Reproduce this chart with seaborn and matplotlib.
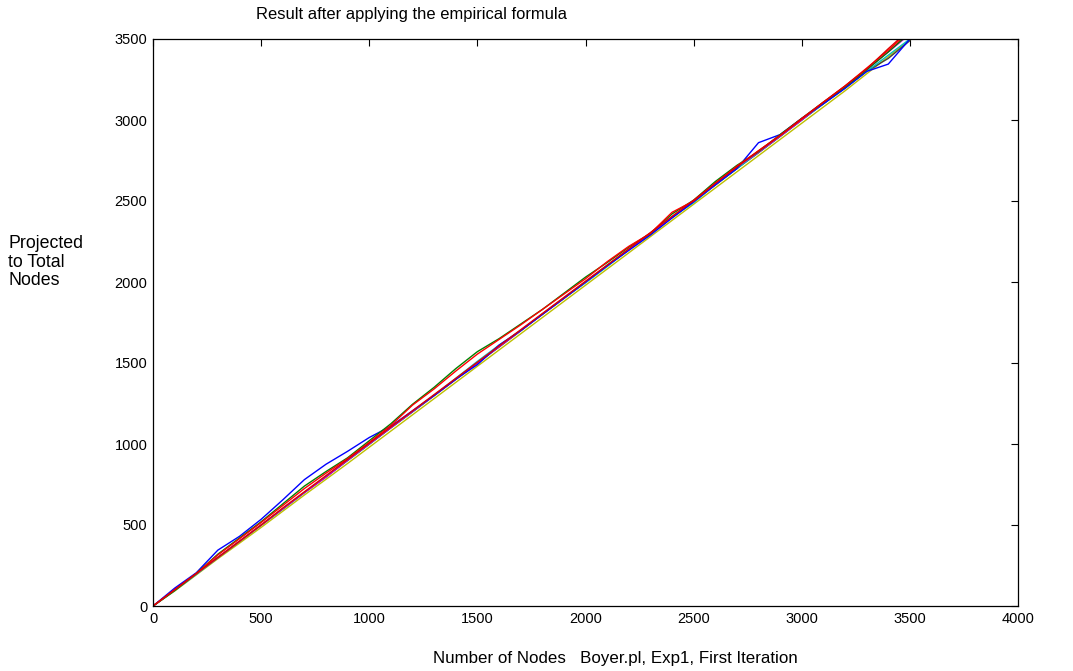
import matplotlib
matplotlib.use("Agg")
import matplotlib.pyplot as plt
import seaborn as sns
import pandas as pd

nodes = [0, 100, 200, 300, 400, 500, 600, 700, 800, 900, 1000, 1100, 1200, 1300, 1400, 1500, 1600, 1700,
         1800, 1900, 2000, 2100, 2200, 2300, 2400, 2500, 2600, 2700, 2800, 2900, 3000, 3100, 3200, 3300, 3400, 3500]

run_blue = [0, 110, 205, 345, 430, 535, 655, 780, 875, 955, 1040, 1110, 1205, 1300, 1400, 1490, 1610, 1700, 1800,
            1900, 2000, 2100, 2195, 2290, 2395, 2495, 2600, 2700, 2860, 2910, 3010, 3100, 3195, 3300, 3345, 3500]
run_green = [0, 95, 200, 320, 420, 520, 630, 740, 830, 915, 1020, 1125, 1245, 1350, 1465, 1570, 1650, 1740, 1830,
             1930, 2030, 2120, 2215, 2300, 2420, 2505, 2620, 2720, 2805, 2910, 3010, 3110, 3205, 3310, 3420, 3540]
run_red = [0, 100, 200, 315, 415, 515, 620, 725, 820, 910, 1010, 1115, 1240, 1340, 1450, 1555, 1645, 1735, 1830,
           1925, 2020, 2125, 2220, 2300, 2430, 2500, 2610, 2715, 2810, 2905, 3005, 3110, 3210, 3320, 3430, 3550]
run_cyan = [0, 95, 195, 300, 400, 500, 600, 700, 800, 900, 1000, 1100, 1200, 1300, 1405, 1510, 1610, 1700, 1800,
            1900, 1995, 2095, 2200, 2295, 2400, 2490, 2600, 2700, 2800, 2900, 3000, 3100, 3200, 3300, 3400, 3500]
run_magenta = [0, 100, 200, 300, 400, 500, 600, 700, 795, 900, 1000, 1100, 1200, 1300, 1400, 1500, 1600, 1700, 1800,
               1900, 2000, 2100, 2200, 2300, 2400, 2500, 2600, 2710, 2800, 2900, 3000, 3105, 3205, 3310, 3420, 3530]
run_yellow = [0, 92, 192, 292, 388, 485, 585, 685, 782, 880, 980, 1080, 1180, 1280, 1380, 1480, 1580, 1680, 1780,
              1880, 1980, 2080, 2180, 2280, 2380, 2480, 2580, 2680, 2780, 2880, 2980, 3080, 3180, 3285, 3390, 3495]
run_black = [0, 98, 198, 298, 398, 498, 598, 700, 798, 898, 998, 1100, 1198, 1298, 1398, 1500, 1598, 1698, 1800,
             1898, 1998, 2100, 2200, 2298, 2398, 2500, 2598, 2700, 2798, 2898, 3000, 3100, 3198, 3300, 3380, 3490]
run_red2 = [0, 100, 200, 300, 400, 500, 605, 705, 805, 905, 1005, 1105, 1205, 1305, 1405, 1505, 1605, 1705, 1805,
            1905, 2005, 2105, 2205, 2305, 2405, 2505, 2610, 2710, 2810, 2905, 3010, 3110, 3210, 3315, 3440, 3560]

series = {"b": run_blue, "g": run_green, "r": run_red, "c": run_cyan, "m": run_magenta,
          "y": run_yellow, "k": run_black, "r2": run_red2}
colors = {"b": "#0000ff", "g": "#008000", "r": "#ff0000", "c": "#00bfbf", "m": "#bf00bf",
          "y": "#bfbf00", "k": "#404040", "r2": "#e00000"}

rows = []
for name, vals in series.items():
    for xv, yv in zip(nodes, vals):
        rows.append({"nodes": xv, "projected": yv, "run": name})
df = pd.DataFrame(rows)

sns.set_style("white")
plt.rcParams['font.family'] = ['Liberation Sans', 'DejaVu Sans']
plt.rcParams['text.color'] = 'black'

fig = plt.figure(figsize=(10.73, 6.71), dpi=100)
ax = fig.add_axes([153/1073, 65/671, 865/1073, 567/671])

order = ["y", "k", "c", "m", "b", "g", "r", "r2"]
sns.lineplot(data=df, x="nodes", y="projected", hue="run", hue_order=order, palette=colors,
             ax=ax, legend=False, linewidth=1.0, estimator=None, sort=False)

ax.set_xlim(0, 4000)
ax.set_ylim(0, 3500)
ax.set_xticks(range(0, 4001, 500))
ax.set_yticks(range(0, 3501, 500))
ax.tick_params(direction="in", top=True, right=True, length=5, width=0.8, labelsize=10.5,
               colors="black", labelcolor="black", pad=4)
for s in ax.spines.values():
    s.set_color("black")
    s.set_linewidth(0.9)
ax.set_xlabel("")
ax.set_ylabel("")

fig.text(412/1073, 1 - 14/671, "Result after applying the empirical formula", ha="center", va="center",
         fontsize=11.9, color="black")
fig.text(615/1073, 1 - 658/671, "Number of Nodes   Boyer.pl, Exp1, First Iteration", ha="center", va="center",
         fontsize=12.2, color="black")
fig.text(8/1073, 1 - 262/671, "Projected\nto Total\nNodes", ha="left", va="center", fontsize=12.8,
         linespacing=1.1, color="black")

fig.savefig("out.png", dpi=100)
